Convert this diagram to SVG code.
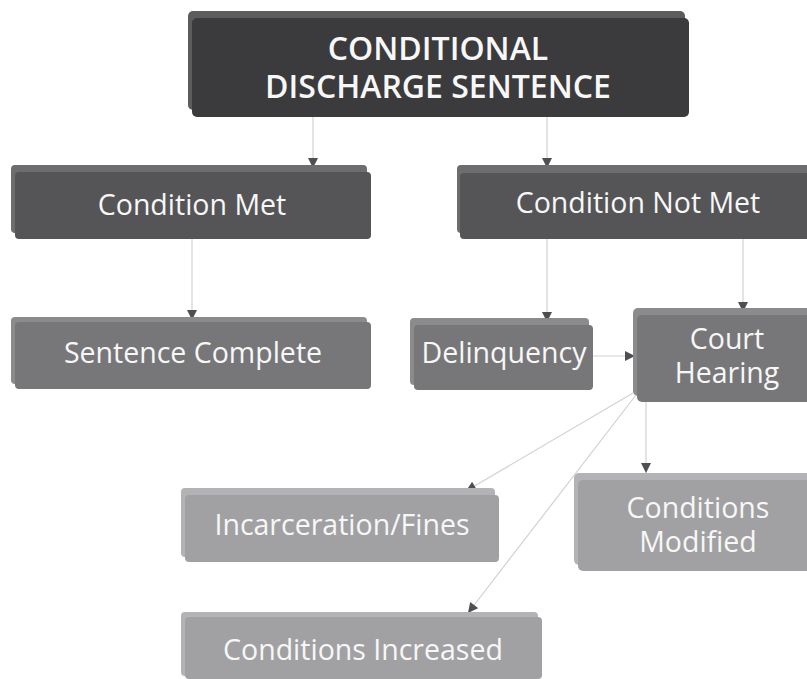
<svg xmlns="http://www.w3.org/2000/svg" width="807" height="679" viewBox="0 0 807 679">
  <defs>
    <marker id="arrow" viewBox="0 0 10 10" refX="10" refY="5" markerWidth="11" markerHeight="10" markerUnits="userSpaceOnUse" orient="auto">
      <path d="M0,0 L10,5 L0,10 z" fill="#4f4f51"/>
    </marker>
    <style>
      .lbl { font-family: "Open Sans", "Noto Sans", "Liberation Sans", sans-serif; fill: #f7f7f7; text-anchor: middle; }
      .t1 { font-size: 32px; font-weight: 600; }
      .t2 { font-size: 28.5px; }
      .edge { stroke: #d2d2d2; stroke-width: 1.2; fill: none; marker-end: url(#arrow); }
      .d0b { fill: #5c5c5e; } .d0f { fill: #3b3b3d; }
      .d1b { fill: #6d6d6f; } .d1f { fill: #555557; }
      .d2b { fill: #8b8b8d; } .d2f { fill: #77777a; }
      .d3b { fill: #b3b3b5; } .d3f { fill: #a1a1a3; }
    </style>
  </defs>
  <rect width="807" height="679" fill="#ffffff"/>

  <!-- connectors -->
  <g id="connectors">
    <line class="edge" x1="313" y1="117" x2="313" y2="168"/>
    <line class="edge" x1="547" y1="117" x2="547" y2="168"/>
    <line class="edge" x1="192" y1="238" x2="192" y2="320"/>
    <line class="edge" x1="547" y1="239" x2="547" y2="322"/>
    <line class="edge" x1="743" y1="239" x2="743" y2="312"/>
    <line class="edge" x1="593" y1="356" x2="635" y2="356"/>
    <line class="edge" x1="646" y1="402" x2="646" y2="473"/>
    <line class="edge" x1="633" y1="393" x2="466" y2="491"/>
    <line class="edge" x1="636" y1="395" x2="468" y2="613"/>
  </g>

  <!-- nodes -->
  <g id="node-root">
    <rect class="d0b" x="188" y="11" width="497" height="99" rx="5"/>
    <rect class="d0f" x="192" y="18" width="497" height="99" rx="5"/>
    <text class="lbl t1" x="438" y="60">CONDITIONAL</text>
    <text class="lbl t1" x="438" y="98">DISCHARGE SENTENCE</text>
  </g>

  <g id="node-met">
    <rect class="d1b" x="11" y="165" width="356" height="68" rx="4"/>
    <rect class="d1f" x="15" y="172" width="356" height="67" rx="4"/>
    <text class="lbl t2" x="192" y="215">Condition Met</text>
  </g>

  <g id="node-not-met">
    <rect class="d1b" x="457" y="165" width="360" height="68" rx="4"/>
    <rect class="d1f" x="460" y="173" width="360" height="66" rx="4"/>
    <text class="lbl t2" x="638" y="213">Condition Not Met</text>
  </g>

  <g id="node-complete">
    <rect class="d2b" x="11" y="317" width="356" height="67" rx="4"/>
    <rect class="d2f" x="15" y="322" width="356" height="67" rx="4"/>
    <text class="lbl t2" x="193" y="363">Sentence Complete</text>
  </g>

  <g id="node-delinquency">
    <rect class="d2b" x="410" y="318" width="179" height="67" rx="4"/>
    <rect class="d2f" x="414" y="325" width="179" height="65" rx="4"/>
    <text class="lbl t2" x="504" y="363">Delinquency</text>
  </g>

  <g id="node-hearing">
    <rect class="d2b" x="633" y="308" width="190" height="88" rx="5"/>
    <rect class="d2f" x="637" y="315" width="190" height="87" rx="5"/>
    <text class="lbl t2" x="727" y="349">Court</text>
    <text class="lbl t2" x="727" y="383">Hearing</text>
  </g>

  <g id="node-incarceration">
    <rect class="d3b" x="181" y="488" width="314" height="69" rx="4"/>
    <rect class="d3f" x="185" y="495" width="314" height="67" rx="4"/>
    <text class="lbl t2" x="342" y="535">Incarceration/Fines</text>
  </g>

  <g id="node-modified">
    <rect class="d3b" x="574" y="473" width="250" height="92" rx="5"/>
    <rect class="d3f" x="578" y="480" width="250" height="91" rx="5"/>
    <text class="lbl t2" x="698" y="518">Conditions</text>
    <text class="lbl t2" x="698" y="552">Modified</text>
  </g>

  <g id="node-increased">
    <rect class="d3b" x="181" y="612" width="357" height="64" rx="4"/>
    <rect class="d3f" x="185" y="617" width="357" height="62" rx="4"/>
    <text class="lbl t2" x="363" y="660">Conditions Increased</text>
  </g>
</svg>
